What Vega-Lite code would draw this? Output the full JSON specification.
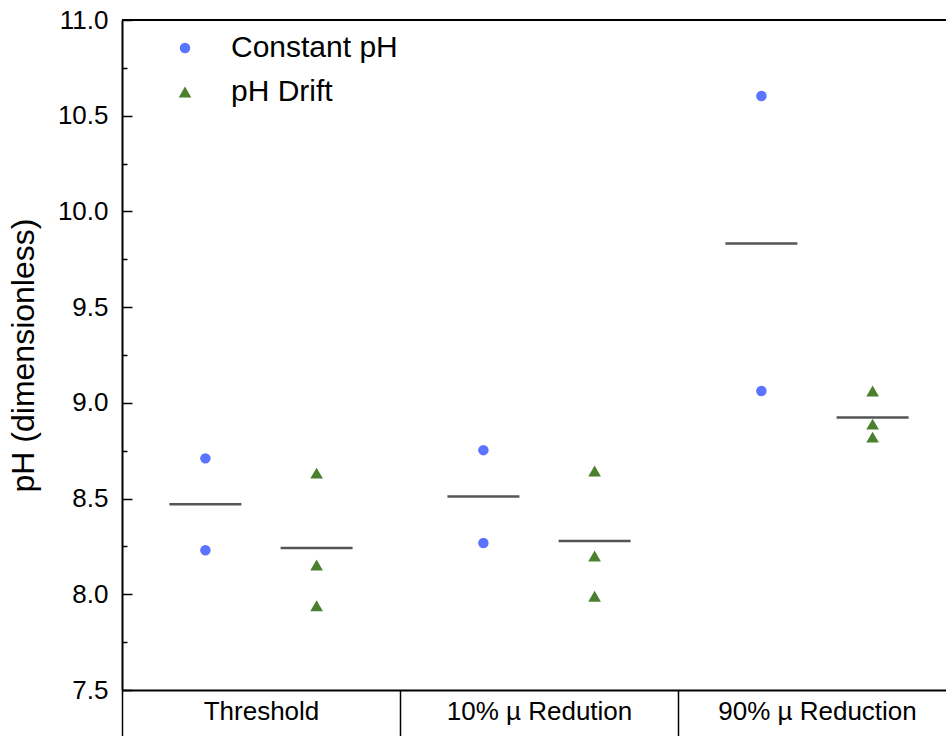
{
  "$schema": "https://vega.github.io/schema/vega-lite/v6.json",
  "width": 824,
  "height": 670,
  "autosize": {"type": "none"},
  "padding": {"left": 122, "top": 20, "right": 0, "bottom": 46},
  "background": "white",
  "config": {"view": {"stroke": null}, "font": "Liberation Sans"},
  "data": {
    "values": [
      {"group": "Threshold", "series": "Constant pH", "value": 8.71},
      {"group": "Threshold", "series": "Constant pH", "value": 8.23},
      {"group": "Threshold", "series": "pH Drift", "value": 8.633},
      {"group": "Threshold", "series": "pH Drift", "value": 8.153},
      {"group": "Threshold", "series": "pH Drift", "value": 7.94},
      {"group": "10% µ Redution", "series": "Constant pH", "value": 8.753},
      {"group": "10% µ Redution", "series": "Constant pH", "value": 8.268},
      {"group": "10% µ Redution", "series": "pH Drift", "value": 8.644},
      {"group": "10% µ Redution", "series": "pH Drift", "value": 8.2},
      {"group": "10% µ Redution", "series": "pH Drift", "value": 7.99},
      {"group": "90% µ Reduction", "series": "Constant pH", "value": 10.603},
      {"group": "90% µ Reduction", "series": "Constant pH", "value": 9.062},
      {"group": "90% µ Reduction", "series": "pH Drift", "value": 9.062},
      {"group": "90% µ Reduction", "series": "pH Drift", "value": 8.889},
      {"group": "90% µ Reduction", "series": "pH Drift", "value": 8.821}
    ]
  },
  "layer": [
    {
      "mark": {"type": "rule", "color": "black", "strokeWidth": 2},
      "encoding": {"y": {"datum": 11, "type": "quantitative"}}
    },
    {
      "mark": {"type": "tick", "color": "#555555", "thickness": 2.5, "size": 72},
      "encoding": {
        "x": {"field": "group", "type": "nominal", "sort": ["Threshold", "10% µ Redution", "90% µ Reduction"]},
        "xOffset": {"field": "series", "type": "nominal", "sort": ["Constant pH", "pH Drift"]},
        "y": {"aggregate": "mean", "field": "value", "type": "quantitative"}
      }
    },
    {
      "mark": {"type": "point", "filled": true, "opacity": 1},
      "encoding": {
        "x": {
          "field": "group", "type": "nominal",
          "sort": ["Threshold", "10% µ Redution", "90% µ Reduction"],
          "scale": {"paddingInner": 0, "paddingOuter": 0, "range": [0, 834]},
          "axis": {
            "title": null, "labelAngle": 0, "labelFontSize": 26, "labelColor": "black", "labelAlign": "center", "labelLimit": 400,
            "tickBand": "extent", "tickSize": 46, "tickColor": "black", "tickWidth": 1.5,
            "domainColor": "black", "domainWidth": 2, "labelPadding": -25
          }
        },
        "xOffset": {
          "field": "series", "type": "nominal", "sort": ["Constant pH", "pH Drift"],
          "scale": {"paddingInner": 0, "paddingOuter": 0.25}
        },
        "y": {
          "field": "value", "type": "quantitative",
          "scale": {"domain": [7.5, 11], "nice": false, "zero": false},
          "axis": {
            "title": "pH (dimensionless)", "titleFontSize": 32, "titleFontWeight": "normal", "titleColor": "black", "titlePadding": 17,
            "values": [7.5, 7.75, 8, 8.25, 8.5, 8.75, 9, 9.25, 9.5, 9.75, 10, 10.25, 10.5, 10.75, 11],
            "labelExpr": "(datum.value * 4) % 2 == 0 ? format(datum.value, '.1f') : ''",
            "labelFontSize": 26, "labelColor": "black", "labelPadding": 24,
            "tickSize": {"condition": {"test": "(datum.value * 4) % 2 == 0", "value": -10}, "value": -5},
            "tickColor": "black", "tickWidth": 1.5, "domainColor": "black", "domainWidth": 2, "grid": false
          }
        },
        "color": {
          "field": "series", "type": "nominal",
          "scale": {"domain": ["Constant pH", "pH Drift"], "range": ["#5B74FF", "#4B802E"]},
          "legend": {
            "title": null, "orient": "none", "legendX": 48, "legendY": 13,
            "labelFontSize": 30, "labelColor": "black", "labelOffset": 31, "rowPadding": 14, "labelLimit": 400
          }
        },
        "shape": {
          "field": "series", "type": "nominal",
          "scale": {"domain": ["Constant pH", "pH Drift"], "range": ["circle", "triangle-up"]}
        },
        "size": {
          "field": "series", "type": "nominal",
          "scale": {"domain": ["Constant pH", "pH Drift"], "range": [110, 160]}
        }
      }
    }
  ]
}
